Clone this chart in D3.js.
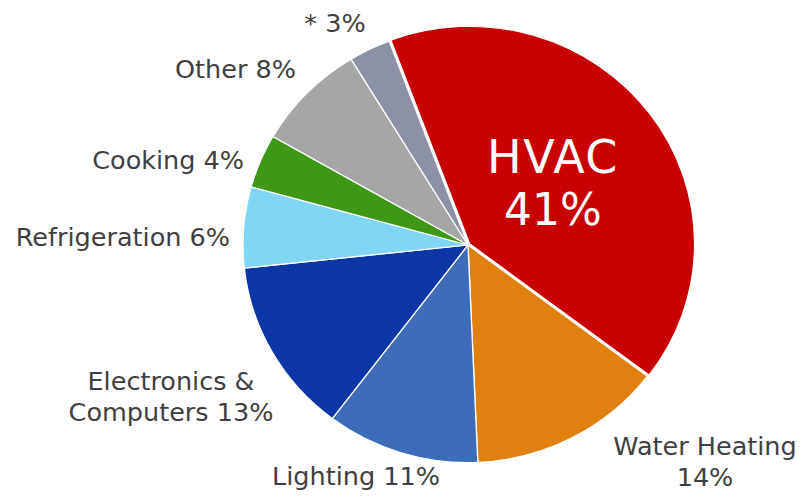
<!DOCTYPE html>
<html><head><meta charset="utf-8">
<script src="https://cdn.jsdelivr.net/npm/d3@7"></script>
<style>html,body{margin:0;padding:0;background:#fff}svg{display:block}</style>
</head><body>
<svg id="c" width="801" height="496"></svg>
<script>
const categories = ["HVAC","Water Heating","Lighting","Electronics & Computers","Refrigeration","Cooking","Other","*"];
const values = [41,14,11,13,6,4,8,3];
const colors = ["#C80000","#E0800F","#3C6CBA","#0B36A6","#80D6F6","#3D9816","#A6A6A6","#8C91A5"];

const svg = d3.select("#c");
const cx = 468, cy = 245, r = 225, sy = 0.967;
const start = -20.5 * Math.PI/180;
const pie = d3.pie().sort(null).value(d => d).startAngle(start).endAngle(start + 2*Math.PI);
const arcs = pie(values);
const arc = d3.arc().innerRadius(0).outerRadius(r);
const g = svg.append("g").attr("transform", `translate(${cx},${cy}) scale(1,${sy})`);
g.selectAll("path").data(arcs).enter().append("path")
  .attr("d", arc)
  .attr("fill", (d,i) => colors[i])
  .attr("stroke", "#fff").attr("stroke-width", 1.3)
  .attr("transform", (d,i) => {
    if (i !== 0) return null;
    const m = (d.startAngle + d.endAngle)/2, o = 2;
    return `translate(${o*Math.sin(m)},${-o*Math.cos(m)})`;
  });

const font = "'DejaVu Sans', sans-serif";
const labels = [
  {lines:["* 3%"], x:335, y:32, a:"middle"},
  {lines:["Other 8%"], x:296, y:78, a:"end"},
  {lines:["Cooking 4%"], x:244, y:169, a:"end"},
  {lines:["Refrigeration 6%"], x:230, y:246, a:"end"},
  {lines:["Electronics &","Computers 13%"], x:171, y:390, a:"middle"},
  {lines:["Lighting 11%"], x:356, y:485, a:"middle"},
  {lines:["Water Heating","14%"], x:705, y:455, a:"middle"}
];
labels.forEach(l => {
  const t = svg.append("text").attr("x", l.x).attr("y", l.y).attr("text-anchor", l.a)
    .attr("font-family", font).attr("font-size", 25.5).attr("fill", "#3F3F3F");
  l.lines.forEach((s,k) => t.append("tspan").attr("x", l.x).attr("dy", k ? 31 : 0).text(s));
});
svg.append("text").attr("x", 553).attr("y", 173).attr("text-anchor","middle")
  .attr("font-family", font).attr("font-size", 46).attr("letter-spacing", 1.5)
  .attr("fill", "#fff").text(categories[0]);
svg.append("text").attr("x", 553).attr("y", 225).attr("text-anchor","middle")
  .attr("font-family", font).attr("font-size", 44).attr("fill", "#fff").text(values[0] + "%");
</script>
</body></html>
